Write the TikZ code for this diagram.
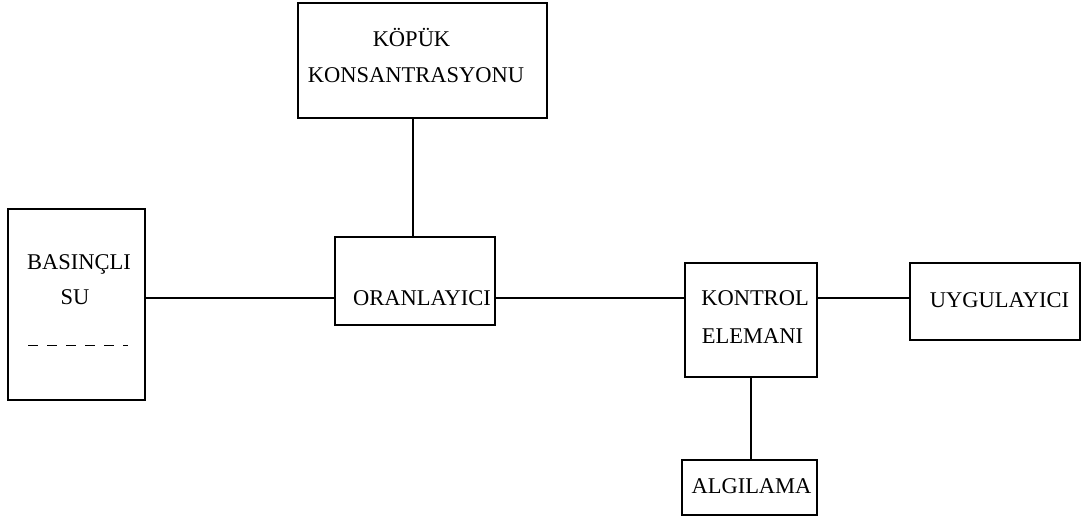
\documentclass[tikz,border=0pt]{standalone}
\usepackage{fontspec}
\setmainfont{Liberation Serif}
\begin{document}
\begin{tikzpicture}[x=1pt,y=-1pt,
  box/.style={draw, line width=1.1pt, inner sep=0pt},
  lbl/.style={inner sep=0pt, anchor=base, font=\fontsize{22.5}{27}\selectfont},
  conn/.style={line width=1.1pt}]
\useasboundingbox (0,0) rectangle (1083,519);
% boxes
\node[box, minimum width=249pt, minimum height=115pt] (kopuk) at (422.5,60.5) {};
\node[box, minimum width=137pt, minimum height=191pt] (basin) at (76.5,304.5) {};
\node[box, minimum width=160pt, minimum height=88pt] (oran) at (415,281) {};
\node[box, minimum width=132pt, minimum height=114pt] (kontrol) at (751,320) {};
\node[box, minimum width=170pt, minimum height=77pt] (uyg) at (995,301.5) {};
\node[box, minimum width=135pt, minimum height=55pt] (algi) at (749.5,487.5) {};
% labels
\node[lbl] (t1) at (411.5,47) {KÖPÜK};
\node[lbl] (t2) at (416,82) {KONSANTRASYONU};
\node[lbl] (t3) at (79,269) {BASINÇLI};
\node[lbl] (t4) at (75,304) {SU};
\node[lbl] (t5) at (422,305) {ORANLAYICI};
\node[lbl] (t6) at (755,305) {KONTROL};
\node[lbl] (t7) at (752.5,343) {ELEMANI};
\node[lbl] (t8) at (999.5,307) {UYGULAYICI};
\node[lbl] (t9) at (751.5,493) {ALGILAMA};
\draw[line width=0.8pt, dash pattern=on 10pt off 9pt] (28,345) -- (128,345);
% connectors
\coordinate (mainy) at (0,298);
\draw[conn] ([xshift=-9.5pt]kopuk.south) -- ([xshift=-9.5pt]kopuk.south |- oran.north);
\draw[conn] (basin.east |- mainy) -- (oran.west |- mainy);
\draw[conn] (oran.east |- mainy) -- (kontrol.west |- mainy);
\draw[conn] (kontrol.east |- mainy) -- (uyg.west |- mainy);
\draw[conn] (kontrol.south) -- (kontrol.south |- algi.north);
\end{tikzpicture}
\end{document}
